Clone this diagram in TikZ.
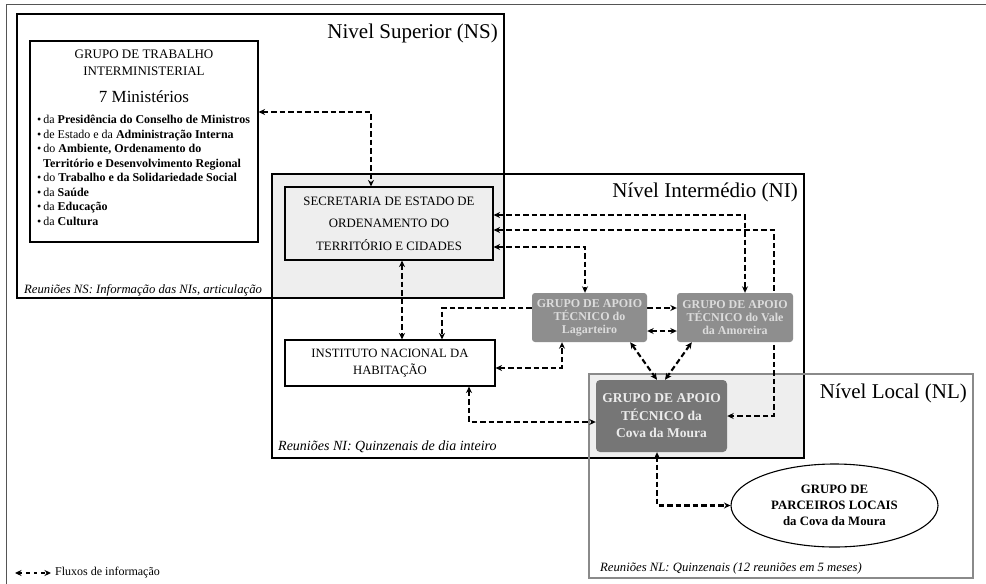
\documentclass[tikz,border=0pt]{standalone}
\usepackage{fontspec}
\setmainfont{Liberation Serif}
\usetikzlibrary{arrows.meta,calc,shapes.geometric}
\definecolor{lightshade}{HTML}{EEEEEE}
\definecolor{gatgrey}{HTML}{8E8E8E}
\definecolor{covagrey}{HTML}{767676}
\definecolor{gattext}{HTML}{DCDCDC}
\definecolor{covatext}{HTML}{ECECEC}
\definecolor{nlgrey}{HTML}{8A8A8A}
\definecolor{framegrey}{HTML}{555555}
\newcommand\fsz[2]{\fontsize{#1}{#2}\selectfont}
\pgfdeclarelayer{back}
\pgfdeclarelayer{mid}
\pgfsetlayers{back,mid,main}
\begin{document}
\begin{tikzpicture}[x=1pt,y=-1pt,
  tip/.tip={Stealth[length=6.5pt,width=6pt]},
  flow/.style={line width=2.1pt, dash pattern=on 5.5pt off 3pt, {tip}-{tip}},
  flowone/.style={line width=2.1pt, dash pattern=on 5.5pt off 3pt, -{tip}},
  plainbox/.style={draw=black, line width=1.1pt, inner sep=0pt},
  gatbox/.style={fill=gatgrey, rounded corners=3pt, inner sep=0pt, minimum height=49pt,
     text=gattext, font=\bfseries\fsz{12}{13}, align=center},
  levellabel/.style={anchor=east, inner sep=0pt, font=\fsz{21}{24}},
  meeting/.style={anchor=west, inner sep=0pt, font=\itshape\fsz{12.7}{15}}
]
\useasboundingbox (0,0) rectangle (986,584);

% levels (background)
\begin{pgfonlayer}{back}
  \fill[white] (0,0) rectangle (986,584);
  \draw[framegrey, line width=0.9pt] (6,584) -- (6,4) -- (986,4);
  \fill[lightshade] (272,174) rectangle (504,298);
  \fill[lightshade] (589,374) rectangle (804,458);
  \draw[black, line width=1.1pt] (272,174) rectangle (804,458);
  \draw[nlgrey, line width=1.6pt] (589,374) rectangle (973,578);
  \draw[black, line width=2.6pt] (17,14) rectangle (504,298);
\end{pgfonlayer}

% level labels
\node[levellabel] (lns) at (498,33) {Nivel Superior (NS)};
\node[levellabel] (lni) at (798,192) {Nível Intermédio (NI)};
\node[levellabel] (lnl) at (967,393) {Nível Local (NL)};

% meeting notes
\node[meeting] (mns) at (24,290) {Reuniões NS: Informação das NIs, articulação};
\node[meeting, font=\itshape\fsz{14}{16}] (mni) at (278,447) {Reuniões NI: Quinzenais de dia inteiro};
\node[meeting] (mnl) at (600,568) {Reuniões NL: Quinzenais (12 reuniões em 5 meses)};

% Grupo de trabalho interministerial
\node[plainbox, fill=white, minimum width=228pt, minimum height=201pt] (gt) at (144,141.5) {};
\node[inner sep=0pt, align=center, font=\fsz{13}{17}] (gttitle) at (144,62.5)
  {GRUPO DE TRABALHO\\INTERMINISTERIAL};
\node[inner sep=0pt, font=\fsz{17}{20}] (gtmin) at (144,97) {7 Ministérios};
\node[inner sep=0pt, anchor=north west, align=left, font=\fsz{12}{14.5}] (gtlist) at (37,115)
  {\textbullet\,da \textbf{Presidência do Conselho de Ministros}\\
   \textbullet\,de Estado e da \textbf{Administração Interna}\\
   \textbullet\,do \textbf{Ambiente, Ordenamento do}\\
   \hspace*{6pt}\textbf{Território e Desenvolvimento Regional}\\
   \textbullet\,do \textbf{Trabalho e da Solidariedade Social}\\
   \textbullet\,da \textbf{Saúde}\\
   \textbullet\,da \textbf{Educação}\\
   \textbullet\,da \textbf{Cultura}};

% Secretaria de Estado
\node[plainbox, fill=lightshade, minimum width=208pt, minimum height=73pt, align=center,
      font=\fsz{12.8}{22.5}] (sec) at (389,223.5)
  {SECRETARIA DE ESTADO DE\\ORDENAMENTO DO\\TERRITÓRIO E CIDADES};

% Instituto Nacional da Habitacao
\node[plainbox, fill=white, minimum width=210pt, minimum height=46pt, align=center,
      font=\fsz{12.7}{17}] (inh) at (390,363)
  {INSTITUTO NACIONAL DA\\HABITAÇÃO};

% GAT boxes
\node[gatbox, minimum width=115pt] (lag) at (589.5,317.5)
  {GRUPO DE APOIO\\TÉCNICO do\\Lagarteiro};
\node[gatbox, minimum width=116pt] (vale) at (735,317.5)
  {GRUPO DE APOIO\\TÉCNICO do Vale\\da Amoreira};
\node[fill=covagrey, rounded corners=4pt, inner sep=0pt, minimum width=131pt, minimum height=72pt,
      text=covatext, font=\bfseries\fsz{13.5}{17.5}, align=center] (cova) at (661.5,416)
  {GRUPO DE APOIO\\TÉCNICO da\\Cova da Moura};

% Parceiros locais
\node[draw=black, line width=1.1pt, fill=white, ellipse, minimum width=207pt, minimum height=83pt,
      inner sep=0pt, align=center, font=\bfseries\fsz{12.8}{16}] (ell) at (834.5,505.5)
  {GRUPO DE\\PARCEIROS LOCAIS\\da Cova da Moura};

% connectors
\begin{pgfonlayer}{mid}
  \draw[flow] ([yshift=29.5pt]gt.east) -| ([xshift=-18pt]sec.north);
  \draw[flow] ([xshift=13pt]sec.south) -- ([xshift=12pt]inh.north);
  \draw[flow] ([yshift=8.5pt]sec.east) -| ([xshift=10pt]vale.north);
  \draw[flow] ([yshift=-6.5pt]sec.east) -| ($(cova.east)+(46.5,0)$) -- (cova.east);
  \draw[flow] ([yshift=-23.5pt]sec.east) -| ([xshift=-4.5pt]lag.north);
  \draw[flowone] ([yshift=9.5pt]lag.west) -| ([xshift=52pt]inh.north);
  \draw[flow] ([yshift=-5pt]inh.east) -| ([xshift=-27.5pt]lag.south);
  \draw[flow] ([xshift=79pt]inh.south) |- ([yshift=-6pt]cova.west);
  \draw[flowone] ([yshift=9.5pt]lag.east) -- ([yshift=9.5pt]vale.west);
  \draw[flow] ([yshift=-13.5pt]lag.east) -- ([yshift=-13.5pt]vale.west);
  \draw[flow] ([xshift=-17pt]lag.south east) -- ([xshift=-4.5pt]cova.north);
  \draw[flow] ([xshift=15pt]vale.south west) -- ([xshift=3.5pt]cova.north);
  \draw[flow] ([xshift=-4.5pt]cova.south) |- (ell.west);
\end{pgfonlayer}

% legend
\coordinate (lega) at (15,573);
\coordinate (legb) at (51,573);
\draw[line width=1.3pt, dash pattern=on 3.5pt off 4pt, {Stealth[length=6.5pt,width=6pt]}-{Stealth[length=6.5pt,width=6pt]}] (lega) -- (legb);
\node[anchor=west, inner sep=0pt, font=\fsz{12}{14}] (legtext) at (55,573) {Fluxos de informação};
\end{tikzpicture}
\end{document}
